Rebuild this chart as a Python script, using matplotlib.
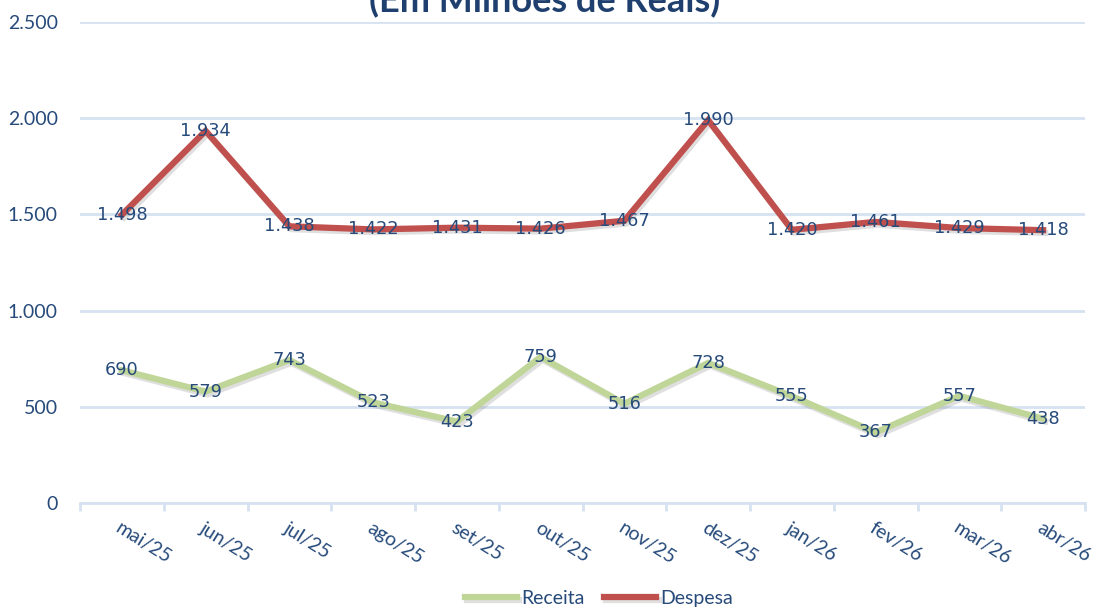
import matplotlib.pyplot as plt
import matplotlib.patheffects as pe
from matplotlib.ticker import FixedLocator, FuncFormatter

meses = ['mai/25', 'jun/25', 'jul/25', 'ago/25', 'set/25', 'out/25',
         'nov/25', 'dez/25', 'jan/26', 'fev/26', 'mar/26', 'abr/26']
receita = [690, 579, 743, 523, 423, 759, 516, 728, 555, 367, 557, 438]
despesa = [1498, 1934, 1438, 1422, 1431, 1426, 1467, 1990, 1420, 1461, 1429, 1418]

azul = '#264A7A'
grade = '#D6E2F1'
cor_rec = '#C0D598'
cor_desp = '#C0504D'

plt.rcParams['font.family'] = ['Lato', 'DejaVu Sans']

fig = plt.figure(figsize=(10.95, 6.08), dpi=100)
ax = fig.add_axes([80 / 1095, 1 - 503 / 608, 1005 / 1095, 481 / 608])

x = list(range(len(meses)))
sombra = [pe.SimpleLineShadow(offset=(1.5, -2), shadow_color='gray', alpha=0.25), pe.Normal()]
ax.plot(x, receita, color=cor_rec, lw=4.5, label='Receita', path_effects=sombra,
        solid_joinstyle='miter', zorder=3)
ax.plot(x, despesa, color=cor_desp, lw=4.5, label='Despesa', path_effects=sombra,
        solid_joinstyle='miter', zorder=3)


def fmt(v):
    return '{:,}'.format(v).replace(',', '.')


for xi, v in zip(x, despesa):
    ax.text(xi, v, fmt(v), ha='center', va='center', fontsize=12.8, color=azul,
            family='DejaVu Sans', zorder=4)
for xi, v in zip(x, receita):
    ax.text(xi, v, fmt(v), ha='center', va='center', fontsize=12.8, color=azul,
            family='DejaVu Sans', zorder=4)

ax.set_xlim(-0.5, len(meses) - 0.5)
ax.set_ylim(0, 2500)
ax.set_yticks(range(0, 2501, 500))
ax.yaxis.set_major_formatter(FuncFormatter(lambda v, p: fmt(int(v))))
ax.grid(axis='y', color=grade, lw=2)
ax.set_axisbelow(True)

for s in ['top', 'right', 'left']:
    ax.spines[s].set_visible(False)
ax.spines['bottom'].set_color(grade)
ax.spines['bottom'].set_linewidth(2)

ax.tick_params(axis='y', length=0, pad=16, labelsize=14, labelcolor=azul)
ax.set_xticks(x)
ax.set_xticklabels(meses, rotation=-32, ha='left', va='top', rotation_mode='anchor')
ax.tick_params(axis='x', which='major', length=0, pad=12, labelsize=14, labelcolor=azul)
ax.xaxis.set_minor_locator(FixedLocator([i - 0.5 for i in range(len(meses) + 1)]))
ax.tick_params(axis='x', which='minor', length=6, width=2, color=grade)

fig.text(545 / 1095, 1 - 12 / 608, '(Em Milhões de Reais)', ha='center', va='baseline',
         fontsize=26, fontweight='bold', color='#1F3F6E')

fig.legend(loc='lower center', bbox_to_anchor=(0.547, -0.027), ncol=2, frameon=False,
           fontsize=14, labelcolor=azul, handlelength=2.7, handletextpad=0.2,
           columnspacing=1.0)

fig.savefig('out.png', dpi=100)
